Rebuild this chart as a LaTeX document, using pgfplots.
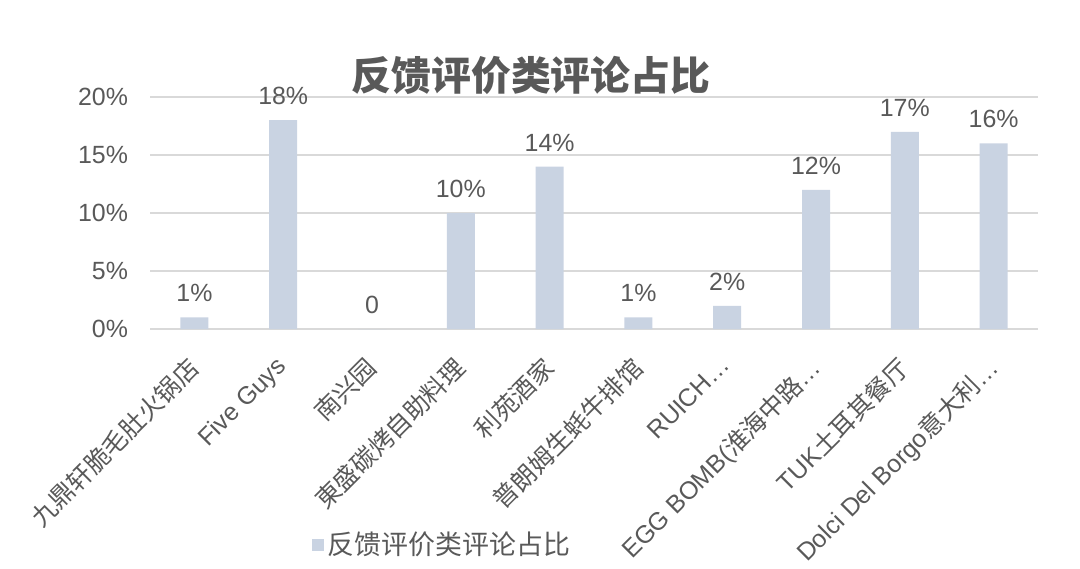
\documentclass[border=0pt]{standalone}
\usepackage{fontspec}
\setmainfont{Liberation Sans}
\newfontfamily\cjk{Noto Sans CJK SC}
\usepackage{pgfplots}
\pgfplotsset{compat=1.18}
\definecolor{txt}{HTML}{595959}
\definecolor{barc}{HTML}{C9D3E2}
\definecolor{gridc}{HTML}{D9D9D9}
\begin{document}
\begin{tikzpicture}
\path[use as bounding box] (-75bp,-120bp) rectangle (465bp,164.5bp);
\begin{axis}[
  at={(0,0)}, anchor=south west,
  scale only axis, width=444bp, height=116bp,
  xmin=-0.5, xmax=9.5, ymin=0, ymax=20,
  axis line style={draw=none},
  tick style={draw=none},
  major tick length=0pt,
  ymajorgrids, major grid style={gridc, line width=0.8bp},
  ytick={0,5,10,15,20},
  yticklabel={\pgfmathprintnumber{\tick}\%},
  /pgf/number format/assume math mode=true,
  y tick label style={font=\fontsize{12.5}{15}\selectfont, text=txt, xshift=-7.5bp},
  xtick={0,...,9},
  xticklabels={{\cjk 九鼎轩脆毛肚火锅店},{Five Guys},{\cjk 南兴园},{\cjk 東盛碳烤自助料理},{\cjk 利苑酒家},{\cjk 普朗姆生蚝牛排馆},{RUICH…},{EGG BOMB({\cjk 淮海中路}…},{TUK{\cjk 土耳其餐厅}},{Dolci Del Borgo{\cjk 意大利}…}},
  x tick label style={rotate=45, anchor=north east, font=\fontsize{12.5}{15}\selectfont, text=txt, inner sep=2bp, xshift=-10bp, yshift=-4bp},
  ybar, bar width=14bp,
  nodes near coords, point meta=explicit symbolic,
  nodes near coords style={font=\fontsize{12.5}{15}\selectfont, text=txt, anchor=south, inner sep=0pt, yshift=7.5bp},
  title={\cjk\bfseries 反馈评价类评论占比},
  title style={at={(0.429,1)}, anchor=center, yshift=5bp, font=\fontsize{20}{24}\selectfont, text=txt},
  legend style={at={(0.33,-0.931)}, anchor=center, draw=none, fill=none, font=\fontsize{13.5}{16}\selectfont, text=txt},
  legend image code/.code={\fill[barc] (0bp,-3bp) rectangle (6bp,3bp);},
]
\addplot[fill=barc, draw=none] coordinates {
(0,1) [1\%]
(1,18) [18\%]
(2,0) [0]
(3,10) [10\%]
(4,14) [14\%]
(5,1) [1\%]
(6,2) [2\%]
(7,12) [12\%]
(8,17) [17\%]
(9,16) [16\%]
};
\addlegendentry{\cjk 反馈评价类评论占比}
\end{axis}
\end{tikzpicture}
\end{document}
